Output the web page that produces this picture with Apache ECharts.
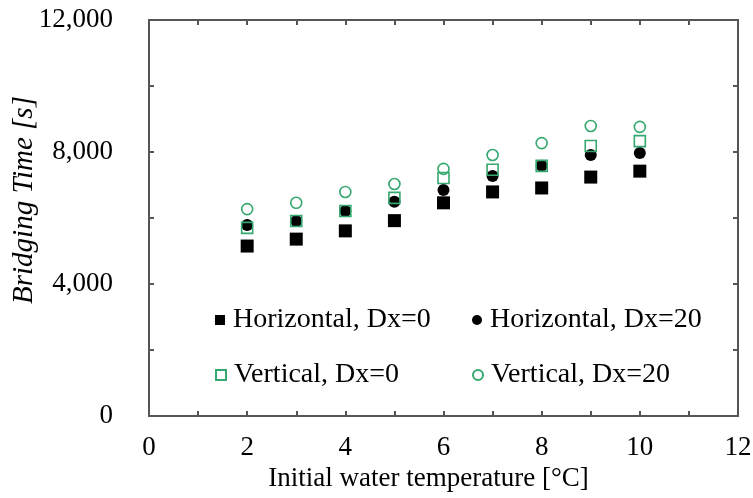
<!DOCTYPE html>
<html>
<head>
<meta charset="utf-8">
<script src="https://cdn.jsdelivr.net/npm/echarts@6/dist/echarts.min.js"></script>
<style>
  html, body { margin: 0; padding: 0; background: #fff; }
  #main { width: 753px; height: 498px; }
</style>
</head>
<body>
<div id="main"></div>
<script>
// water temperature [°C]
var temps = [2, 3, 4, 5, 6, 7, 8, 9, 10];
// bridging time [s]
var horizDx0  = [5150, 5360, 5610, 5920, 6460, 6790, 6910, 7240, 7420];
var horizDx20 = [5790, 5910, 6210, 6490, 6850, 7270, 7580, 7910, 7970];
var vertDx0   = [5700, 5910, 6210, 6610, 7210, 7460, 7580, 8180, 8330];
var vertDx20  = [6270, 6460, 6790, 7030, 7490, 7910, 8270, 8790, 8760];
var names = ['Horizontal, Dx=0', 'Horizontal, Dx=20', 'Vertical, Dx=0', 'Vertical, Dx=20'];
var xTicks = [0, 2, 4, 6, 8, 10, 12];
var yTicks = [0, 4000, 8000, 12000];

var green = '#34a86f';
var font = 'Liberation Serif';
var axisColor = '#555';

function pairs(ys) {
  return temps.map(function (t, i) { return [t, ys[i]]; });
}

var myChart = echarts.init(document.getElementById('main'));

var legendText = { fontFamily: font, fontSize: 28, color: '#000', padding: [0, 0, 0, 3] };
function legendAt(name, left, top) {
  return {
    data: [name],
    left: left, top: top,
    itemWidth: 10, itemHeight: 10, itemGap: 6,
    textStyle: legendText,
    selectedMode: false
  };
}

// plain box side (top / right) with inward ticks, no labels
var sideLine = { show: true, onZero: false, lineStyle: { color: axisColor, width: 2 } };
var sideTick = { inside: true, length: 5, lineStyle: { color: axisColor, width: 2 } };

myChart.setOption({
  animation: false,
  grid: { left: 149, right: 15, top: 20, bottom: 82, outerBoundsMode: 'none' },
  legend: [
    legendAt(names[0], 210, 301),
    legendAt(names[1], 467, 301),
    legendAt(names[2], 210, 356),
    legendAt(names[3], 467, 356)
  ],
  xAxis: [{
    type: 'value', min: 0, max: 12, interval: 1,
    name: 'Initial water temperature [°C]',
    nameLocation: 'middle', nameGap: 47,
    nameTextStyle: { fontFamily: font, fontSize: 27, color: '#000', padding: [0, 30, 0, 0] },
    axisLine: sideLine,
    axisTick: sideTick,
    axisLabel: {
      margin: 18, fontFamily: font, fontSize: 27, color: '#000',
      formatter: function (v) { return xTicks.indexOf(v) >= 0 ? String(v) : ''; }
    },
    splitLine: { show: false }
  }, {
    type: 'value', min: 0, max: 12, interval: 1, position: 'top',
    axisLine: sideLine,
    axisTick: sideTick,
    axisLabel: { show: false },
    splitLine: { show: false }
  }],
  yAxis: [{
    type: 'value', min: 0, max: 12000, interval: 2000,
    name: 'Bridging Time [s]',
    nameLocation: 'middle', nameGap: 110, nameMoveOverlap: false,
    nameTextStyle: { fontFamily: font, fontSize: 29, fontStyle: 'italic', color: '#000', padding: [0, 0, 0, 36] },
    axisLine: sideLine,
    axisTick: sideTick,
    axisLabel: {
      margin: 36, fontFamily: font, fontSize: 27, color: '#000',
      formatter: function (v) { return yTicks.indexOf(v) >= 0 ? v.toLocaleString('en-US') : ''; }
    },
    splitLine: { show: false }
  }, {
    type: 'value', min: 0, max: 12000, interval: 2000, position: 'right',
    axisLine: sideLine,
    axisTick: sideTick,
    axisLabel: { show: false },
    splitLine: { show: false }
  }],
  series: [{
    name: names[0], type: 'scatter', symbol: 'rect', symbolSize: 13,
    itemStyle: { color: '#000', opacity: 1 },
    data: pairs(horizDx0)
  }, {
    name: names[1], type: 'scatter', symbol: 'circle', symbolSize: 12,
    itemStyle: { color: '#000', opacity: 1 },
    data: pairs(horizDx20)
  }, {
    name: names[2], type: 'scatter', symbol: 'rect', symbolSize: 11,
    itemStyle: { color: 'rgba(255,255,255,0)', borderColor: green, borderWidth: 1.6, opacity: 1 },
    data: pairs(vertDx0)
  }, {
    name: names[3], type: 'scatter', symbol: 'circle', symbolSize: 11,
    itemStyle: { color: 'rgba(255,255,255,0)', borderColor: green, borderWidth: 1.6, opacity: 1 },
    data: pairs(vertDx20)
  }]
});
</script>
</body>
</html>
